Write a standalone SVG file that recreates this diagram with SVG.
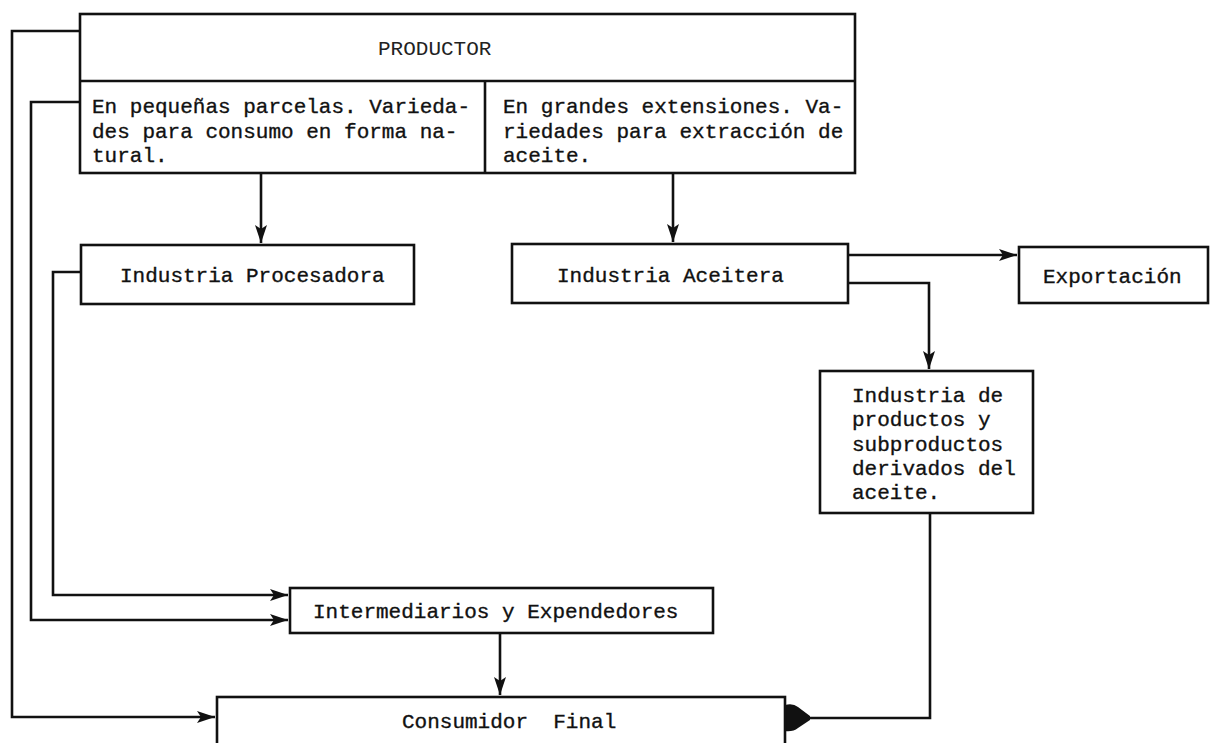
<svg xmlns="http://www.w3.org/2000/svg" width="1210" height="743" viewBox="0 0 1210 743">
<style>
.box{fill:#fff;stroke:#111;stroke-width:2.6}
.ln{fill:none;stroke:#111;stroke-width:2.6}
.t{font-family:"Liberation Mono","DejaVu Sans Mono",monospace;font-size:21px;fill:#111;stroke:#111;stroke-width:0.35}
.tp{font-family:"Liberation Mono","DejaVu Sans Mono",monospace;font-size:21px;fill:#222}
.head{fill:#111}
</style>
<defs>
<marker id="arr" markerWidth="20" markerHeight="14" refX="18" refY="7" orient="auto" markerUnits="userSpaceOnUse">
<path d="M0,1 L18,7 L0,13 L4,7 Z" fill="#111"/>
</marker>
</defs>
<g id="connectors">
<path class="ln" d="M80,31 H12 V717 H215" marker-end="url(#arr)"/>
<path class="ln" d="M80,102 H31 V620 H288" marker-end="url(#arr)"/>
<path class="ln" d="M81,272 H53 V595 H288" marker-end="url(#arr)"/>
<path class="ln" d="M261,173 V243" marker-end="url(#arr)"/>
<path class="ln" d="M673,173 V242" marker-end="url(#arr)"/>
<path class="ln" d="M848,255 H1017" marker-end="url(#arr)"/>
<path class="ln" d="M848,283 H929 V369" marker-end="url(#arr)"/>
<path class="ln" d="M500,633 V695" marker-end="url(#arr)"/>
<path class="ln" d="M930,513 V718 H800"/>
<path class="head" d="M785,705 Q793,703 798,707 L810,716 L810,720 L798,728 Q793,732 785,731 Z"/>
</g>
<g id="productor">
<rect class="box" x="80" y="14" width="775" height="159"/>
<line class="ln" x1="80" y1="81" x2="855" y2="81"/>
<line class="ln" x1="485" y1="81" x2="485" y2="173"/>
<text class="tp" x="378" y="55">PRODUCTOR</text>
<text class="t" x="92" y="113">En pequeñas parcelas. Varieda-</text>
<text class="t" x="92" y="138">des para consumo en forma na-</text>
<text class="t" x="92" y="162">tural.</text>
<text class="t" x="503" y="113">En grandes extensiones. Va-</text>
<text class="t" x="503" y="138">riedades para extracción de</text>
<text class="t" x="503" y="162">aceite.</text>
</g>
<g id="procesadora">
<rect class="box" x="81" y="245" width="333" height="59"/>
<text class="t" x="120" y="282">Industria Procesadora</text>
</g>
<g id="aceitera">
<rect class="box" x="512" y="244" width="336" height="59"/>
<text class="t" x="557" y="282">Industria Aceitera</text>
</g>
<g id="exportacion">
<rect class="box" x="1019" y="247" width="189" height="56"/>
<text class="t" x="1043" y="283">Exportación</text>
</g>
<g id="derivados">
<rect class="box" x="820" y="371" width="213" height="142"/>
<text class="t" x="852" y="402">Industria de</text>
<text class="t" x="852" y="426">productos y</text>
<text class="t" x="852" y="451">subproductos</text>
<text class="t" x="852" y="475">derivados del</text>
<text class="t" x="852" y="499">aceite.</text>
</g>
<g id="intermediarios">
<rect class="box" x="290" y="588" width="423" height="45"/>
<text class="t" x="313" y="618">Intermediarios y Expendedores</text>
</g>
<g id="consumidor">
<rect class="box" x="217" y="697" width="568" height="60"/>
<text class="t" x="402" y="728" xml:space="preserve">Consumidor  Final</text>
</g>
</svg>
